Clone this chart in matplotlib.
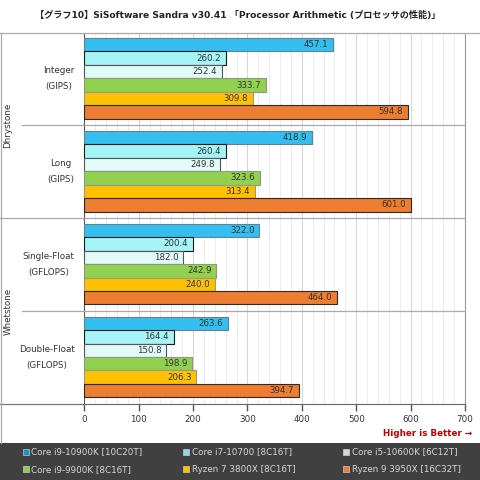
import matplotlib
matplotlib.use("Agg")
import matplotlib.pyplot as plt
from matplotlib.lines import Line2D
from matplotlib.patches import Rectangle

plt.rcParams['font.family'] = ['DejaVu Sans', 'Noto Sans CJK JP']

# ---------------------------------------------
#  Data
# ---------------------------------------------
title = "【グラフ10】SiSoftware Sandra v30.41 「Processor Arithmetic (プロセッサの性能)」"

groups = ["Dhrystone", "Whetstone"]
categories = ["Integer\n(GIPS)", "Long\n(GIPS)", "Single-Float\n(GFLOPS)", "Double-Float\n(GFLOPS)"]

cpus = ["Core i9-10900K [10C20T]", "Core i7-10700 [8C16T]", "Core i5-10600K [6C12T]",
        "Core i9-9900K [8C16T]", "Ryzen 7 3800X [8C16T]", "Ryzen 9 3950X [16C32T]"]

# one list per cpu, values in category order
i9_10900k = [457.1, 418.9, 322.0, 263.6]
i7_10700 = [260.2, 260.4, 200.4, 164.4]
i5_10600k = [252.4, 249.8, 182.0, 150.8]
i9_9900k = [333.7, 323.6, 242.9, 198.9]
r7_3800x = [309.8, 313.4, 240.0, 206.3]
r9_3950x = [594.8, 601.0, 464.0, 394.7]
series = [i9_10900k, i7_10700, i5_10600k, i9_9900k, r7_3800x, r9_3950x]

bar_colors = ["#33bff0", "#a5f4f8", "#e2faf8", "#92d050", "#ffc000", "#ed7d31"]
edge_colors = ["#6a7f8c", "#1a1a1a", "#555555", "#8a9a7a", "#9a9a8a", "#2a2a2a"]
legend_colors = ["#1e90d0", "#8fd3f3", "#d6d6d6", "#8ccd4a", "#ffc000", "#ed7d31"]

W = 480.0


def fx(x):
    return x / W


def fy(y):
    return 1 - y / W


fig = plt.figure(figsize=(4.8, 4.8), dpi=100)

top, bottom, left, right = 32.5, 404.0, 84.3, 465.0
ax = fig.add_axes([fx(left), fy(bottom), (right - left) / W, (bottom - top) / W])

n_cat = len(categories)
bar_h = 0.1448
offset = 0.0592
for j, vals in enumerate(series):
    ys = [i + offset + (j + 0.5) * bar_h for i in range(n_cat)]
    ax.barh(ys, vals, height=bar_h, color=bar_colors[j], edgecolor=edge_colors[j],
            linewidth=0.8, zorder=3)
    for y, v in zip(ys, vals):
        ax.text(v - 9, y, f"{v:.1f}", ha='right', va='center', fontsize=6.2,
                color='#333333', zorder=4)

ax.set_xlim(0, 700)
ax.set_ylim(n_cat, 0)
ax.set_xticks(range(0, 701, 100))
ax.set_xticks(range(0, 701, 20), minor=True)
ax.set_yticks([])
ax.grid(True, which='major', axis='x', color='#d8d8d8', lw=0.8)
ax.grid(True, which='minor', axis='x', color='#ededed', lw=0.8)
ax.set_axisbelow(True)
ax.tick_params(axis='x', which='major', length=5, width=1, color='#555555',
               labelsize=6.3, labelcolor='#333333', pad=3)
ax.tick_params(axis='x', which='minor', length=0)
ax.spines['top'].set_visible(False)
ax.spines['left'].set_color('#555555')
ax.spines['bottom'].set_color('#666666')
ax.spines['right'].set_color('#999999')

# frame / separator lines (pixel coordinates)
def hline(y, x0, x1, color='#aaaaaa'):
    fig.add_artist(Line2D([fx(x0), fx(x1)], [fy(y), fy(y)], color=color, lw=0.9))

cat_h = (bottom - top) / n_cat
hline(top, 0, W, '#aaaaaa')
hline(top + cat_h, 22, right)
hline(top + 2 * cat_h, 0, right)
hline(top + 3 * cat_h, 22, right)
hline(bottom, 0, left, '#777777')
fig.add_artist(Line2D([fx(1), fx(1)], [fy(top), fy(443)], color='#aaaaaa', lw=0.9))

# category labels
for i, lab in enumerate(categories):
    yc = top + (i + 0.5) * cat_h
    fig.text(fx(74.5), fy(yc), lab, ha='right', va='center', multialignment='center',
             fontsize=6.3, color='#333333', linespacing=2.0)

for g, lab in enumerate(groups):
    yc = top + (2 * g + 1) * cat_h
    fig.text(fx(8), fy(yc), lab, ha='center', va='center', rotation=90,
             fontsize=6.3, color='#333333')

fig.text(fx(238), fy(15), title, ha='center', va='center', fontsize=6.6,
         fontweight='bold', color='#222222')

fig.text(fx(472), fy(433.5), "Higher is Better →", ha='right', va='center',
         fontsize=6.3, fontweight='bold', color='#c00000')

# legend
fig.add_artist(Rectangle((0, 0), 1, fy(443), transform=fig.transFigure,
                         facecolor='#404040', edgecolor='none'))
col_x = [22.7, 183.3, 343.3]
row_y = [451.7, 469.3]
for k, name in enumerate(cpus):
    cx = col_x[k % 3]
    cy = row_y[k // 3]
    fig.add_artist(Rectangle((fx(cx), fy(cy + 3)), 6 / W, 6 / W, transform=fig.transFigure,
                             facecolor=legend_colors[k], edgecolor='#e0e0e0', lw=0.4))
    fig.text(fx(cx + 8.5), fy(cy), name, ha='left', va='center', fontsize=6.3,
             color='#d8d8d8')

fig.savefig("out.png", dpi=100)
